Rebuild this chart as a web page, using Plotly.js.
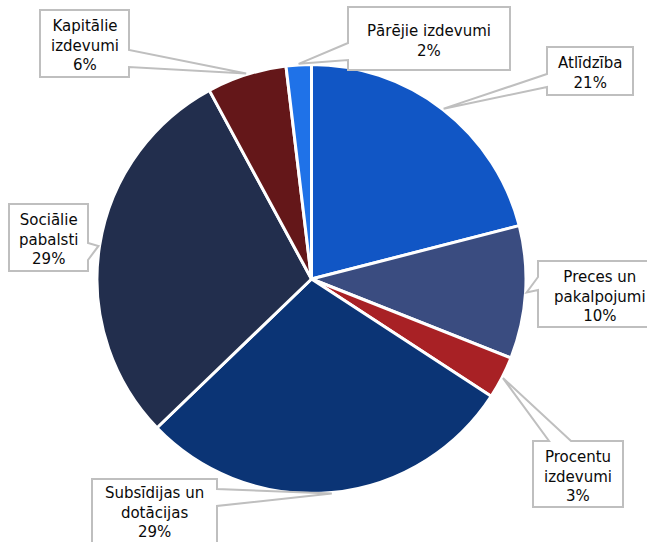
<!DOCTYPE html>
<html>
<head>
<meta charset="utf-8">
<script src="https://cdn.plot.ly/plotly-3.0.1.min.js"></script>
<style>html,body{margin:0;padding:0;background:#fff;}#chart{width:647px;height:542px;}</style>
</head>
<body>
<div id="chart"></div>
<script>
// Data (clockwise from 12 o'clock)
const categories = ['Atlīdzība', 'Preces un\npakalpojumi', 'Procentu\nizdevumi', 'Subsīdijas un\ndotācijas', 'Sociālie\npabalsti', 'Kapitālie\nizdevumi', 'Pārējie izdevumi'];
const shares = [21.0, 10.0, 3.2, 28.6, 29.3, 6.0, 1.9];
const sliceColors = ['#1156C5', '#3A4C80', '#A82125', '#0B3475', '#222E4D', '#641719', '#1F72E8'];

// Layout helpers (pixel geometry)
const W = 647, H = 542;
const pie = {x0: 96.5, x1: 526.5, y0: 64.5, y1: 493.5};
// callout boxes: [x0, y0, x1, y1], side of wedge, wedge base [a, b]
const callouts = [
  {box: [547, 47, 633, 95],  side: 'left',  base: [74, 87]},
  {box: [538, 261, 662, 327], side: 'left', base: [277, 290]},
  {box: [533, 441, 623, 507], side: 'top',  base: [549, 571]},
  {box: [92, 479, 217, 560], side: 'right', base: [489, 506], textY: 512},
  {box: [9, 204, 88, 271],   side: 'right', base: [243, 260]},
  {box: [40, 10, 129, 77],   side: 'right', base: [50, 67]},
  {box: [348, 7, 510, 70],   side: 'left',  base: [43, 60]}
];

const px = x => x / W;
const py = y => 1 - y / H;
const P = (x, y) => px(x).toFixed(5) + ',' + py(y).toFixed(5);

const total = shares.reduce((a, b) => a + b, 0);
const cx = (pie.x0 + pie.x1) / 2, cy = (pie.y0 + pie.y1) / 2;
const R = Math.min(pie.x1 - pie.x0, pie.y1 - pie.y0) / 2;
const tipR = R * 1.005;

const shapes = [];
const annotations = [];
let cum = 0;
shares.forEach((v, i) => {
  const th = 2 * Math.PI * (cum + v / 2) / total;
  cum += v;
  const tx = cx + tipR * Math.sin(th), ty = cy - tipR * Math.cos(th);
  const c = callouts[i];
  const [x0, y0, x1, y1] = c.box;
  const [a, b] = c.base;
  const pts = [];
  pts.push([x0, y0]);
  if (c.side === 'top') { pts.push([a, y0], [tx, ty], [b, y0]); }
  pts.push([x1, y0]);
  if (c.side === 'right') { pts.push([x1, a], [tx, ty], [x1, b]); }
  pts.push([x1, y1]);
  if (c.side === 'bottom') { pts.push([b, y1], [tx, ty], [a, y1]); }
  pts.push([x0, y1]);
  if (c.side === 'left') { pts.push([x0, b], [tx, ty], [x0, a]); }
  const path = 'M' + pts.map(p => P(p[0], p[1])).join(' L') + ' Z';
  shapes.push({type: 'path', xref: 'paper', yref: 'paper', path: path,
    fillcolor: '#FFFFFF', line: {color: '#BFBFBF', width: 2}, layer: 'above'});
  const pct = Math.round(v / total * 100);
  const ty0 = c.textY !== undefined ? c.textY : (y0 + y1) / 2 + 2;
  annotations.push({
    xref: 'paper', yref: 'paper',
    x: px((x0 + x1) / 2), y: py(ty0),
    xanchor: 'center', yanchor: 'middle', align: 'center', showarrow: false,
    text: categories[i].replace(/\n/g, '<br>') + '<br>' + pct + '%',
    font: {family: 'DejaVu Sans, Verdana, sans-serif', size: 15, color: '#0A0A0A'}
  });
});

const data = [{
  type: 'pie',
  labels: categories,
  values: shares,
  sort: false,
  direction: 'clockwise',
  rotation: 0,
  textinfo: 'none',
  hoverinfo: 'label+percent',
  marker: {colors: sliceColors, line: {color: '#FFFFFF', width: 3}},
  domain: {x: [px(pie.x0), px(pie.x1)], y: [py(pie.y1), py(pie.y0)]},
  showlegend: false
}];

const layout = {
  width: W, height: H,
  margin: {l: 0, r: 0, t: 0, b: 0},
  paper_bgcolor: '#FFFFFF',
  plot_bgcolor: '#FFFFFF',
  showlegend: false,
  shapes: shapes,
  annotations: annotations
};

Plotly.newPlot('chart', data, layout, {displayModeBar: false, staticPlot: true});
</script>
</body>
</html>
